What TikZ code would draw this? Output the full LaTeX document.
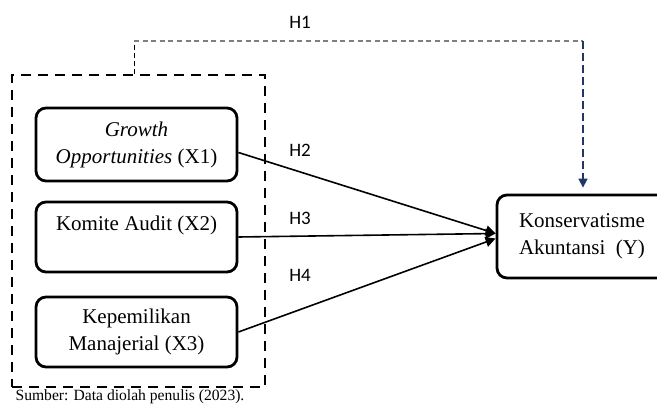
\documentclass[tikz,border=0pt]{standalone}
\usepackage{fontspec}
\setmainfont{Liberation Serif}
\newfontfamily\hypfont{Carlito}
\usetikzlibrary{arrows.meta, positioning, calc}
\definecolor{dashgrey}{HTML}{7F7F7F}
\definecolor{navydash}{HTML}{1F3864}

\begin{document}
\begin{tikzpicture}[x=0.5pt, y=-0.5pt,
    varbox/.style={draw=black, line width=1.4pt, rounded corners=5pt, align=center,
      minimum width=100.5pt, minimum height=35pt, inner sep=2pt,
      font=\fontsize{10.5}{13.5}\selectfont},
    grpbox/.style={draw=black, line width=0.8pt, dash pattern=on 5pt off 3.5pt,
      minimum width=126.5pt, minimum height=156pt, inner sep=0pt},
    hlabel/.style={font=\hypfont\fontsize{9.5}{11}\selectfont, inner sep=1pt},
    effect/.style={line width=0.8pt, -{Triangle[length=5pt,width=5pt]}}]
    % page frame (Y box runs past the right edge)
    \clip (0,0) rectangle (657,406);

    % variables
    \node[grpbox] (grp) at (138.5,231) {};
    \node[varbox, minimum height=36.5pt] (x1) at (136.5,144.5) {\textit{Growth}\\\textit{Opportunities} (X1)};
    \node[varbox] (x2) at (136.5,237) {Komite Audit (X2)\\\mbox{}};
    \node[varbox] (x3) at (136.5,332) {Kepemilikan\\Manajerial (X3)};
    \node[varbox, minimum width=85pt, minimum height=41.5pt] (y) at (582,236.5) {Konservatisme\\Akuntansi\ \ (Y)};

    % hypotheses
    \node[hlabel] (h1) at (300,22) {H1};
    \node[hlabel] (h2) at (300,150) {H2};
    \node[hlabel] (h3) at (300,218) {H3};
    \node[hlabel] (h4) at (300,275) {H4};

    \draw[effect] ([yshift=-4pt]x1.east) -- ([yshift=1.5pt]y.west);
    \draw[effect] (x2.east) -- ([yshift=1.5pt]y.west);
    \draw[effect] (x3.east) -- ([yshift=-1pt]y.west);

    % simultaneous path H1
    \coordinate (h1a) at (134,41);
    \coordinate (h1b) at (583,41);
    \draw[black, line width=0.5pt, dash pattern=on 2.5pt off 1.5pt] (grp.north -| h1a) -- (h1a);
    \draw[dashgrey, line width=0.7pt, dash pattern=on 2.5pt off 1.8pt] (h1a) -- (h1b);
    \draw[navydash, line width=0.8pt, dash pattern=on 4pt off 2pt, shorten >=3pt,
      -{Triangle[length=4.5pt,width=4.5pt]}] (h1b) -- (h1b |- y.north);

    \node[font=\fontsize{7.8}{9}\selectfont, inner sep=0pt] (src) at (130,397) {Sumber: Data diolah penulis (2023).};
\end{tikzpicture}
\end{document}
